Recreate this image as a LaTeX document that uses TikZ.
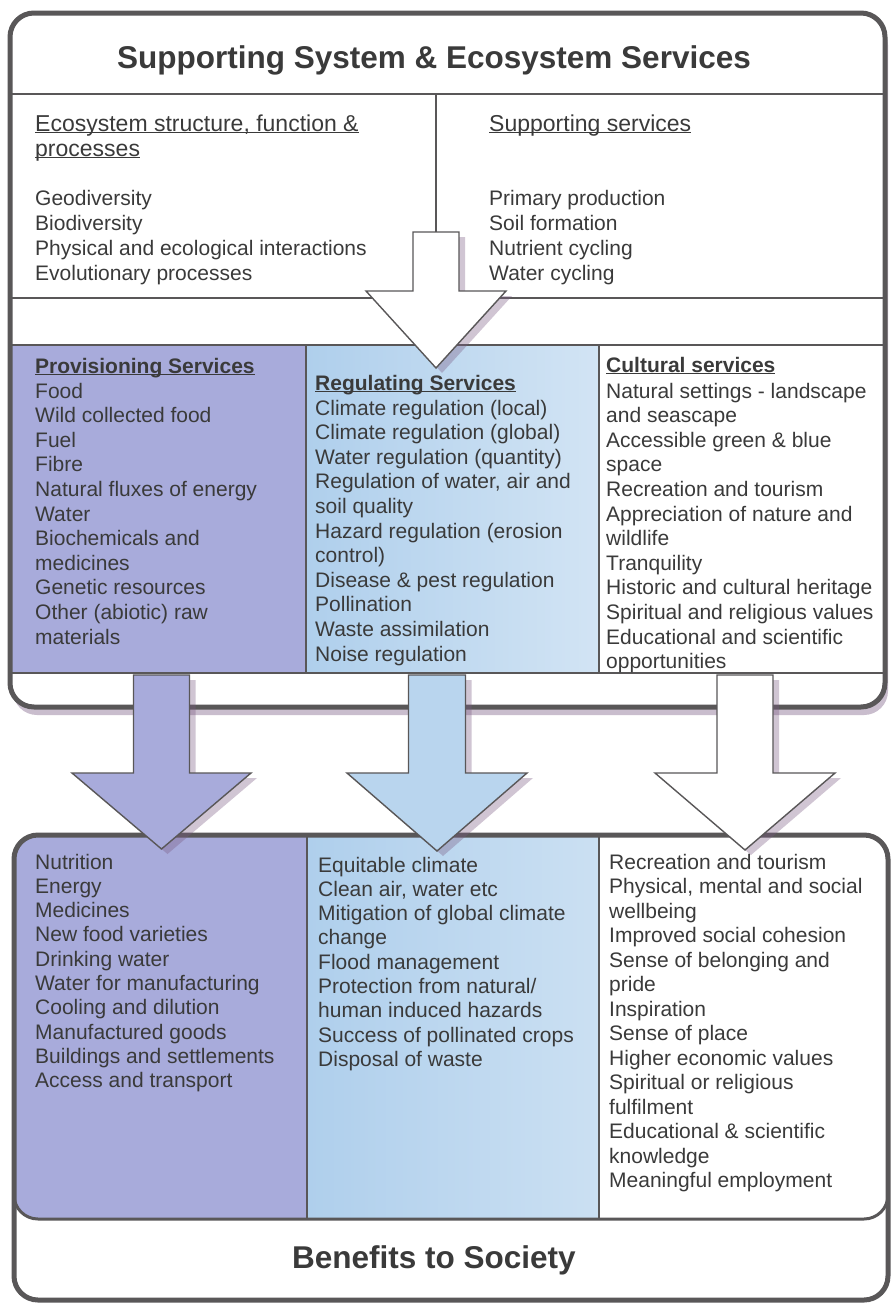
\documentclass[tikz,border=0pt]{standalone}
\usepackage{fontspec}
\setmainfont{Liberation Sans}
\usetikzlibrary{shadows}
\definecolor{bord}{HTML}{595758}
\definecolor{txt}{HTML}{3A3A3A}
\definecolor{prov}{HTML}{A8ABDB}
\definecolor{regl}{HTML}{AFCFEC}
\definecolor{regr}{HTML}{D2E4F4}
\definecolor{shad}{HTML}{7A5A82}
\newcommand{\hdul}[1]{\underline{\smash{#1}}}
\begin{document}
\begin{tikzpicture}[x=1pt,y=-1pt,
  item/.style={anchor=base west, inner sep=0pt, text=txt, font=\fontsize{21}{24}\selectfont},
  tophead/.style={anchor=base west, inner sep=0pt, text=txt, font=\fontsize{23}{26}\selectfont},
  colhead/.style={anchor=base west, inner sep=0pt, text=txt, font=\bfseries\fontsize{21}{24}\selectfont},
  bigtitle/.style={anchor=base, inner sep=0pt, text=txt, font=\bfseries\fontsize{31.5}{36}\selectfont},
  outerbox/.style={draw=bord, line width=5pt, rounded corners=24pt},
  innerline/.style={draw=bord, line width=1.6pt},
  blockarrow/.style={draw=bord, line width=1.4pt, line join=miter,
     drop shadow={shadow xshift=6pt, shadow yshift=-5pt, fill=shad, opacity=0.35}}]
\useasboundingbox (0,0) rectangle (893,1304);
\fill[white] (0,0) rectangle (893,1304);

% ---------- top box ----------
\fill[white, rounded corners=24pt, drop shadow={shadow xshift=3pt, shadow yshift=-8pt, fill=shad, opacity=0.4}] (10,13) rectangle (885,707);
\fill[prov] (12,345) rectangle (306,673);
\shade[left color=regl, right color=regr] (306,345) rectangle (599,673);
\draw[innerline] (10,94) -- (885,94);
\draw[innerline] (436,94) -- (436,298);
\draw[innerline] (10,298) -- (885,298);
\draw[innerline] (10,345) -- (885,345);
\draw[innerline] (10,673) -- (885,673);
\draw[innerline] (306,345) -- (306,673);
\draw[innerline] (599,345) -- (599,673);
\draw[outerbox] (10,13) rectangle (885,707);

% top arrow
\draw[blockarrow, fill=white] (413,232) -- (459,232) -- (459,291) -- (506,291) -- (436,368) -- (366,291) -- (413,291) -- cycle;

% ---------- bottom box ----------
\fill[white, rounded corners=24pt] (14,835) rectangle (888,1300);
\begin{scope}
  \clip[rounded corners=24pt] (14,835) rectangle (888,1219);
  \fill[prov] (14,835) rectangle (307,1219);
  \shade[left color=regl, right color=regr!80!regl] (307,835) rectangle (599,1219);
\end{scope}
\draw[innerline] (307,835) -- (307,1219);
\draw[innerline] (599,835) -- (599,1219);
\draw[draw=bord, line width=3pt, rounded corners=24pt] (14,835) rectangle (888,1219);
\draw[outerbox] (14,835) rectangle (888,1300);

% bottom arrows
\draw[blockarrow, fill=prov] (133.5,675) -- (189.5,675) -- (189.5,773) -- (251,773) -- (161.5,849) -- (72,773) -- (133.5,773) -- cycle;
\draw[blockarrow, fill=regl!70!regr] (408.5,675) -- (465.5,675) -- (465.5,773) -- (527,773) -- (437,851) -- (347,773) -- (408.5,773) -- cycle;
\draw[blockarrow, fill=white] (717,675) -- (773,675) -- (773,773) -- (835,773) -- (745,850) -- (655,773) -- (717,773) -- cycle;
% redraw column bottom line over arrow tops
\draw[innerline] (10,673) -- (885,673);

% ---------- texts ----------
\node[bigtitle] (title) at (434,68) {Supporting System \& Ecosystem Services};
\node[tophead] (esh1) at (35,131) {\hdul{Ecosystem structure, function \&}};
\node[tophead] (esh2) at (35,156) {\hdul{processes}};
\node[tophead] (ssh) at (489,131) {\hdul{Supporting services}};
\foreach \t [count=\i from 0] in {Geodiversity, Biodiversity, Physical and ecological interactions, Evolutionary processes}
  \node[item] (es\i) at (35,{205+\i*25}) {\t};
\foreach \t [count=\i from 0] in {Primary production, Soil formation, Nutrient cycling, Water cycling}
  \node[item] (ss\i) at (489,{205+\i*25}) {\t};

\node[colhead] (provh) at (35,373) {\hdul{Provisioning Services}};
\foreach \t [count=\i from 0] in {Food, Wild collected food, Fuel, Fibre, Natural fluxes of energy, Water, Biochemicals and, medicines, Genetic resources, Other (abiotic) raw, materials}
  \node[item] (pv\i) at (35,{398+\i*24.6}) {\t};

\node[colhead] (regh) at (315,390) {\hdul{Regulating Services}};
\foreach \t [count=\i from 0] in {Climate regulation (local), Climate regulation (global), Water regulation (quantity), {Regulation of water, air and}, soil quality, Hazard regulation (erosion, control), Disease \& pest regulation, Pollination, Waste assimilation, Noise regulation}
  \node[item] (rg\i) at (315,{415+\i*24.6}) {\t};

\node[colhead] (culh) at (606,372) {\hdul{Cultural services}};
\foreach \t [count=\i from 0] in {Natural settings - landscape, and seascape, Accessible green \& blue, space, Recreation and tourism, Appreciation of nature and, wildlife, Tranquility, Historic and cultural heritage, Spiritual and religious values, Educational and scientific, opportunities}
  \node[item] (cu\i) at (606,{398+\i*24.6}) {\t};

\foreach \t [count=\i from 0] in {Nutrition, Energy, Medicines, New food varieties, Drinking water, Water for manufacturing, Cooling and dilution, Manufactured goods, Buildings and settlements, Access and transport}
  \node[item] (bp\i) at (35,{869+\i*24.3}) {\t};
\foreach \t [count=\i from 0] in {Equitable climate, {Clean air, water etc}, Mitigation of global climate, change, Flood management, Protection from natural/, human induced hazards, Success of pollinated crops, Disposal of waste}
  \node[item] (br\i) at (318,{872+\i*24.3}) {\t};
\foreach \t [count=\i from 0] in {Recreation and tourism, {Physical, mental and social}, wellbeing, Improved social cohesion, Sense of belonging and, pride, Inspiration, Sense of place, Higher economic values, Spiritual or religious, fulfilment, Educational \& scientific, knowledge, Meaningful employment}
  \node[item] (bc\i) at (609,{869+\i*24.5}) {\t};

\node[bigtitle] (benefits) at (434,1268) {Benefits to Society};
\end{tikzpicture}
\end{document}
